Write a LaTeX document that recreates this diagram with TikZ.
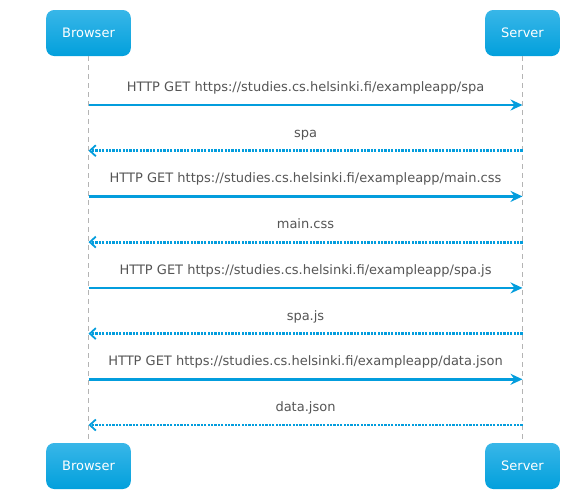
\documentclass[tikz,border=0pt]{standalone}
\usepackage{fontspec}
\setmainfont{DejaVu Sans}
\usetikzlibrary{arrows.meta}
\definecolor{boxtop}{HTML}{38B6E8}
\definecolor{boxbot}{HTML}{02A0DC}
\definecolor{msgblue}{HTML}{039DDD}
\definecolor{lifegray}{HTML}{B4B4B4}
\definecolor{txtgray}{HTML}{555555}
\tikzset{
  actor/.style={rectangle, rounded corners=8pt, minimum height=46pt, inner xsep=16pt,
    top color=boxtop, bottom color=boxbot, text=white, font=\fontsize{13}{15}\selectfont},
  lifeline/.style={lifegray, line width=0.8pt, dash pattern=on 5pt off 4pt},
  req/.style={msgblue, line width=2.5pt, -{Stealth[length=12pt,width=11pt,inset=4pt]}},
  resp/.style={msgblue, line width=2.8pt, dash pattern=on 2.2pt off 1.2pt,
    -{Straight Barb[length=6pt,width=11pt,line width=1.8pt]}},
  lbl/.style={midway, yshift=17pt, text=txtgray, inner sep=0pt, text height=10pt, text depth=3pt,
    font=\fontsize{13}{15}\selectfont}
}
\begin{document}
\begin{tikzpicture}[x=1pt, y=-1pt]
			%%%%% START %%%%%
			\useasboundingbox (0, 0) rectangle (569, 499);
			
			\node[actor] (browserT) at (88.5, 33) {Browser};
			\node[actor] (serverT) at (522.5, 33) {Server};
			\node[actor] (browserB) at (88.5, 466) {Browser};
			\node[actor] (serverB) at (522.5, 466) {Server};
			
			\draw[lifeline] (browserT.south) -- (browserB.north);
			\draw[lifeline] (serverT.south) -- (serverB.north);
			
			\coordinate (b1) at (88.5, 105);   \coordinate (s1) at (522.5, 105);
			\coordinate (b2) at (88.5, 150.7); \coordinate (s2) at (522.5, 150.7);
			\coordinate (b3) at (88.5, 196.4); \coordinate (s3) at (522.5, 196.4);
			\coordinate (b4) at (88.5, 242.1); \coordinate (s4) at (522.5, 242.1);
			\coordinate (b5) at (88.5, 287.9); \coordinate (s5) at (522.5, 287.9);
			\coordinate (b6) at (88.5, 333.6); \coordinate (s6) at (522.5, 333.6);
			\coordinate (b7) at (88.5, 379.3); \coordinate (s7) at (522.5, 379.3);
			\coordinate (b8) at (88.5, 425);   \coordinate (s8) at (522.5, 425);
			
			\draw[req] (b1) -- node[lbl] (m1) {HTTP GET https://studies.cs.helsinki.fi/exampleapp/spa} (s1);
			\draw[resp] (s2) -- node[lbl] (m2) {spa} (b2);
			\draw[req] (b3) -- node[lbl] (m3) {HTTP GET https://studies.cs.helsinki.fi/exampleapp/main.css} (s3);
			\draw[resp] (s4) -- node[lbl] (m4) {main.css} (b4);
			\draw[req] (b5) -- node[lbl] (m5) {HTTP GET https://studies.cs.helsinki.fi/exampleapp/spa.js} (s5);
			\draw[resp] (s6) -- node[lbl] (m6) {spa.js} (b6);
			\draw[req] (b7) -- node[lbl] (m7) {HTTP GET https://studies.cs.helsinki.fi/exampleapp/data.json} (s7);
			\draw[resp] (s8) -- node[lbl] (m8) {data.json} (b8);
			
			%%%%% END %%%%%
		\end{tikzpicture}
\end{document}
